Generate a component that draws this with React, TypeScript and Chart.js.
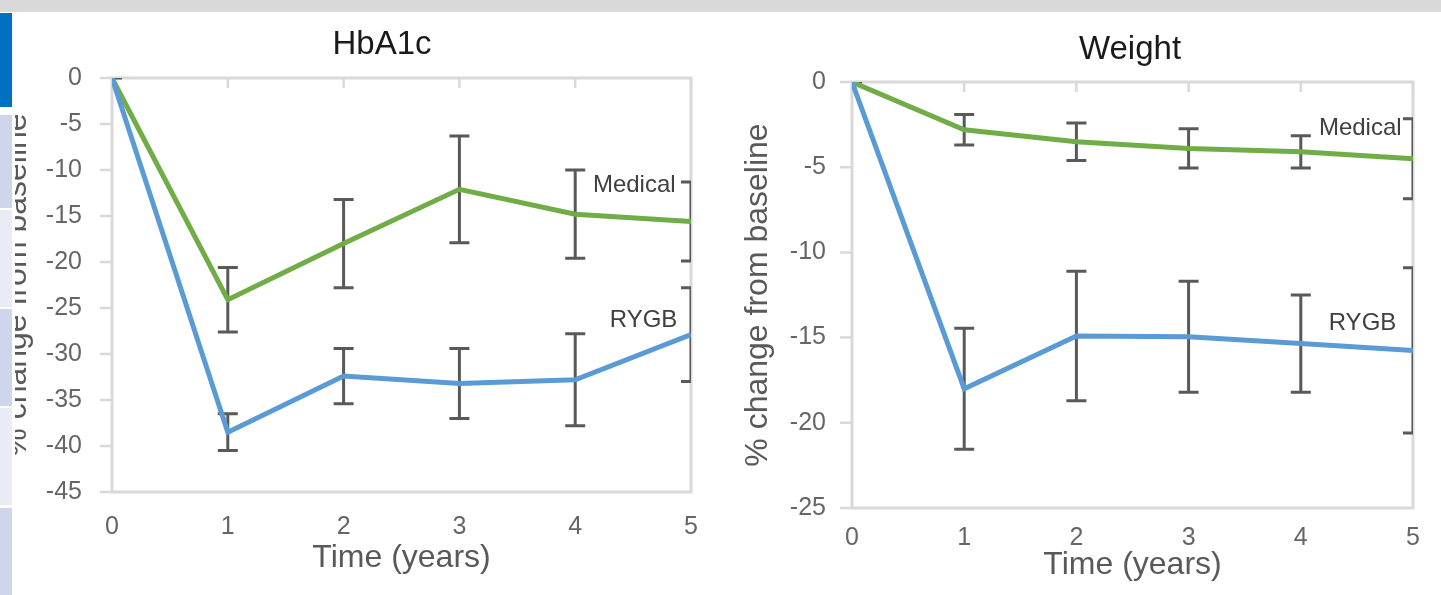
import React, { useEffect, useRef } from 'react';
import { Chart, registerables } from 'chart.js';

Chart.register(...registerables);

const FONT = "'Liberation Sans', Arial, sans-serif";

// ---- data ----
const years = [0, 1, 2, 3, 4, 5];
const seriesNames = ['RYGB', 'Medical'];

const hba1cRygb = [0, -38.5, -32.4, -33.2, -32.8, -27.9];
const hba1cRygbErr = [0, 2.0, 3.0, 3.8, 5.0, 5.1];
const hba1cMedical = [0, -24.1, -18.0, -12.1, -14.8, -15.6];
const hba1cMedicalErr = [0, 3.5, 4.8, 5.8, 4.8, 4.3];

const weightRygb = [0, -18.0, -14.9, -14.95, -15.35, -15.75];
const weightRygbErr = [0, 3.55, 3.8, 3.25, 2.85, 4.85];
const weightMedical = [0, -2.8, -3.5, -3.9, -4.1, -4.5];
const weightMedicalErr = [0, 0.9, 1.1, 1.15, 0.95, 2.35];

const chartTitles = ['HbA1c', 'Weight'];
const xAxisTitle = 'Time (years)';
const yAxisTitle = '% change from baseline';
const hba1cYRange = [-45, 0];
const weightYRange = [-25, 0];
const yStep = 5;

const colors = { RYGB: '#5b9bd5', Medical: '#70ad47' };

const decorPlugin = {
  id: 'decor',
  beforeDatasetsDraw(chart: any, _a: any, opts: any) {
    const { ctx, chartArea: a } = chart;
    const xs = chart.scales.x;
    const ys = chart.scales.y;
    ctx.save();
    ctx.strokeStyle = '#d9d9d9';
    ctx.lineWidth = 3;
    ctx.strokeRect(a.left, a.top, a.right - a.left, a.bottom - a.top);
    ctx.lineWidth = 2.5;
    ctx.beginPath();
    ys.ticks.forEach((t: any) => {
      const py = ys.getPixelForValue(t.value);
      ctx.moveTo(a.left - 12, py);
      ctx.lineTo(a.left, py);
    });
    const y0 = ys.getPixelForValue(0);
    xs.ticks.forEach((t: any) => {
      const px = xs.getPixelForValue(t.value);
      ctx.moveTo(px, y0);
      ctx.lineTo(px, y0 + 10);
    });
    ctx.stroke();

    ctx.beginPath();
    ctx.rect(a.left, a.top, a.right - a.left, a.bottom - a.top);
    ctx.clip();
    ctx.strokeStyle = '#595959';
    ctx.lineWidth = 3;
    ctx.beginPath();
    chart.data.datasets.forEach((ds: any, i: number) => {
      const errs = opts.errors[i];
      ds.data.forEach((p: any, j: number) => {
        const px = xs.getPixelForValue(p.x);
        const hi = ys.getPixelForValue(p.y + errs[j]);
        const lo = ys.getPixelForValue(p.y - errs[j]);
        ctx.moveTo(px, hi);
        ctx.lineTo(px, lo);
        ctx.moveTo(px - 10, hi);
        ctx.lineTo(px + 10, hi);
        ctx.moveTo(px - 10, lo);
        ctx.lineTo(px + 10, lo);
      });
    });
    ctx.stroke();
    ctx.restore();
  },
  afterDraw(chart: any, _a: any, opts: any) {
    const { ctx } = chart;
    const xs = chart.scales.x;
    const ys = chart.scales.y;
    ctx.save();
    ctx.textAlign = 'center';
    ctx.textBaseline = 'middle';
    ctx.fillStyle = '#404040';
    ctx.font = `24px ${FONT}`;
    opts.labels.forEach((l: any) => {
      ctx.fillText(l.text, xs.getPixelForValue(l.x), ys.getPixelForValue(l.y));
    });
    ctx.fillStyle = '#1a1a1a';
    ctx.font = `33px ${FONT}`;
    ctx.fillText(opts.title.text, opts.title.x, opts.title.y);
    ctx.restore();
  },
};

function makeConfig(p: any) {
  return {
    type: 'line',
    data: {
      datasets: [
        {
          label: seriesNames[0],
          data: years.map((x, i) => ({ x, y: p.rygb[i] })),
          borderColor: colors.RYGB,
          borderWidth: 5,
          pointRadius: 0,
          tension: 0,
          fill: false,
        },
        {
          label: seriesNames[1],
          data: years.map((x, i) => ({ x, y: p.medical[i] })),
          borderColor: colors.Medical,
          borderWidth: 5,
          pointRadius: 0,
          tension: 0,
          fill: false,
        },
      ],
    },
    options: {
      responsive: false,
      animation: false,
      devicePixelRatio: 1,
      layout: { padding: { top: p.padTop, right: p.padRight, left: 0, bottom: 0 } },
      plugins: {
        legend: { display: false },
        tooltip: { enabled: false },
        title: { display: false },
        decor: {
          errors: [p.rygbErr, p.medicalErr],
          labels: p.labels,
          title: p.title,
        },
      },
      scales: {
        x: {
          type: 'linear',
          min: 0,
          max: 5,
          grid: { display: false, drawTicks: false },
          border: { display: false },
          ticks: { stepSize: 1, padding: p.xTickPad, color: '#666', font: { family: FONT, size: 25 } },
          title: {
            display: true,
            text: xAxisTitle,
            color: '#595959',
            font: { family: FONT, size: 32 },
            padding: { top: 0, bottom: p.xTitlePad },
          },
          afterFit: (s: any) => { s.height = p.xHeight; },
        },
        y: {
          min: p.yRange[0],
          max: p.yRange[1],
          grid: { display: false, drawTicks: false },
          border: { display: false },
          ticks: { stepSize: yStep, padding: p.yTickPad, color: '#666', font: { family: FONT, size: 25 } },
          title: {
            display: true,
            text: yAxisTitle,
            color: '#595959',
            font: { family: FONT, size: 32 },
            padding: { top: p.yTitlePad, bottom: 0 },
          },
          afterFit: (s: any) => { s.width = p.yWidth; },
        },
      },
    },
    plugins: [decorPlugin],
  };
}

function ChartCanvas({ cfg, left, width }: any) {
  const ref = useRef<HTMLCanvasElement>(null);
  useEffect(() => {
    const c = new Chart(ref.current as any, makeConfig(cfg) as any);
    return () => c.destroy();
  }, []);
  return (
    <canvas
      ref={ref}
      width={width}
      height={595}
      style={{ position: 'absolute', left, top: 0, width, height: 595 }}
    />
  );
}

const sideBlocks = [
  { top: 13, h: 94, c: '#0070c0' },
  { top: 115, h: 93, c: '#cfd5ea' },
  { top: 210, h: 97, c: '#e9ebf5' },
  { top: 309, h: 97, c: '#cfd5ea' },
  { top: 408, h: 97, c: '#e9ebf5' },
  { top: 508, h: 87, c: '#cfd5ea' },
];

export default function App() {
  const left = {
    rygb: hba1cRygb, rygbErr: hba1cRygbErr, medical: hba1cMedical, medicalErr: hba1cMedicalErr,
    yRange: hba1cYRange, padTop: 78, padRight: 27, yWidth: 112, xHeight: 103,
    xTickPad: 20, xTitlePad: 18, yTickPad: 30, yTitlePad: -2,
    labels: [
      { text: 'Medical', x: 4.51, y: -11.7 },
      { text: 'RYGB', x: 4.59, y: -26.3 },
    ],
    title: { text: chartTitles[0], x: 382, y: 45 },
  };
  const right = {
    rygb: weightRygb, rygbErr: weightRygbErr, medical: weightMedical, medicalErr: weightMedicalErr,
    yRange: weightYRange, padTop: 82, padRight: 28, yWidth: 137, xHeight: 87,
    xTickPad: 15, xTitlePad: 11, yTickPad: 26, yTitlePad: 24,
    labels: [
      { text: 'Medical', x: 4.53, y: -2.74 },
      { text: 'RYGB', x: 4.55, y: -14.14 },
    ],
    title: { text: chartTitles[1], x: 415, y: 50 },
  };
  return (
    <div style={{ position: 'fixed', left: 0, top: 0, width: 1441, height: 595, background: '#fff', overflow: 'hidden' }}>
      <ChartCanvas cfg={left} left={0} width={718} />
      <ChartCanvas cfg={right} left={715} width={726} />
      <div style={{ position: 'absolute', left: 0, top: 0, width: 15, height: 595, background: '#fff', zIndex: 1 }} />
      {sideBlocks.map((b, i) => (
        <div key={i} style={{ position: 'absolute', left: 0, top: b.top, width: 12, height: b.h, background: b.c, zIndex: 2 }} />
      ))}
      <div style={{ position: 'absolute', left: 0, top: 0, width: 1441, height: 12, background: '#d9d9d9', zIndex: 3 }} />
    </div>
  );
}
